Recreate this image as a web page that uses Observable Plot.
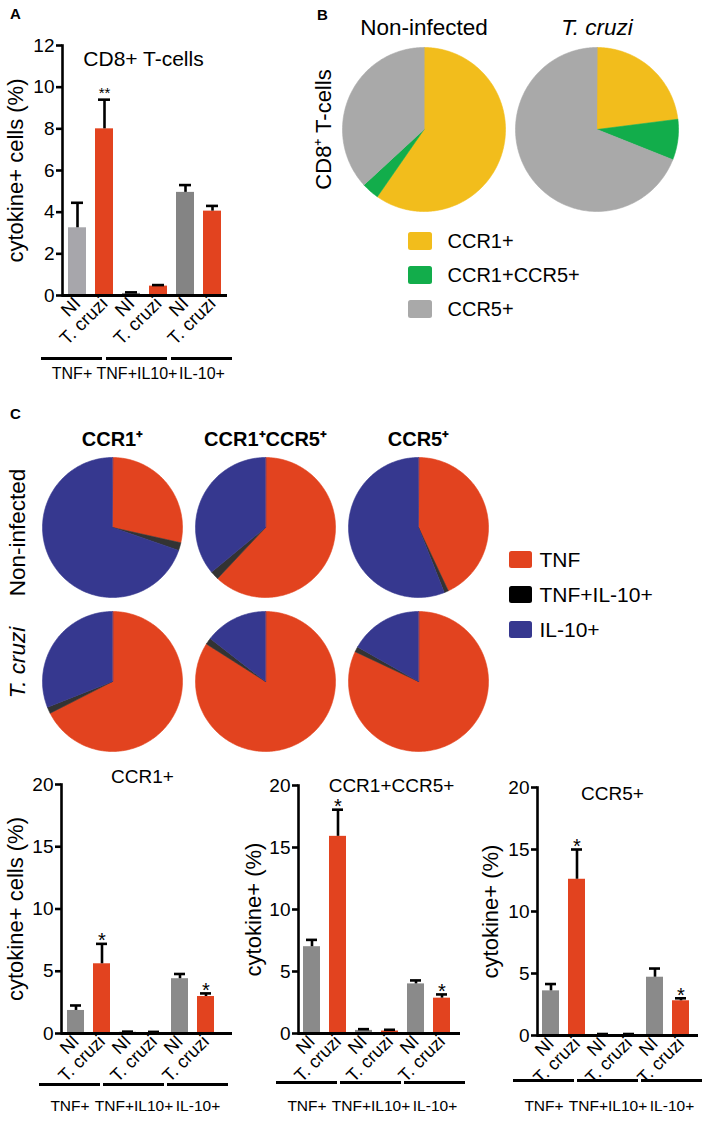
<!DOCTYPE html>
<html><head><meta charset="utf-8">
<script src="https://cdn.jsdelivr.net/npm/d3@7"></script>
<script src="https://cdn.jsdelivr.net/npm/@observablehq/plot@0.6"></script>
<style>
body{margin:0;background:#fff;}
#fig{position:relative;width:709px;height:1124px;overflow:hidden;font-family:"Liberation Sans",Arial,sans-serif;background:#fff;}
#fig svg{position:absolute;}
.letter{position:absolute;font-weight:bold;font-size:15px;line-height:15px;color:#000;}
</style></head><body><div id="fig"></div>
<script>
// ---------------- data ----------------
const conditions = ["NI", "T. cruzi"];
const cytokineGroups = ["TNF+", "TNF+IL10+", "IL-10+"];

// Panel A: CD8+ T-cells
const aMean  = [3.25, 8.0, 0.1, 0.45, 4.95, 4.05];
const aUpper = [4.45, 9.4, 0.15, 0.5, 5.3, 4.3];
const aStars = ["", "**", "", "", "", ""];

// Panel C bar charts
const ccr1Mean  = [1.85, 5.6, 0.1, 0.08, 4.4, 2.97];
const ccr1Upper = [2.25, 7.2, 0.15, 0.13, 4.78, 3.22];
const ccr1Stars = ["", "*", "", "", "", "*"];

const ccr15Mean  = [7.0, 15.9, 0.25, 0.2, 4.0, 2.85];
const ccr15Upper = [7.55, 18.05, 0.35, 0.3, 4.28, 3.15];
const ccr15Stars = ["", "*", "", "", "", "*"];

const ccr5Mean  = [3.6, 12.6, 0.08, 0.08, 4.7, 2.8];
const ccr5Upper = [4.15, 15.0, 0.12, 0.12, 5.4, 3.0];
const ccr5Stars = ["", "*", "", "", "", "*"];

// Panel B pies (%)
const bColumns = ["Non-infected", "T. cruzi"];
const bCategories = ["CCR1+", "CCR1+CCR5+", "CCR5+"];
const bNonInfected = [59.7, 3.5, 36.8];
const bTcruzi = [23, 8, 69];
const bRowLabel = "CD8\u207A T-cells";

// Panel C pies (%)
const cColumns = ["CCR1\u207A", "CCR1\u207ACCR5\u207A", "CCR5\u207A"];
const cRows = ["Non-infected", "T. cruzi"];
const cCategories = ["TNF", "TNF+IL-10+", "IL-10+"];
const cNonInfected = [[28.5, 1.8, 69.7], [62, 2, 36], [43, 1, 56]];
const cTcruzi = [[67.5, 1.5, 31], [84, 1.5, 14.5], [82, 1.2, 16.8]];

// ---------------- styles ----------------
const FONT = '"Liberation Sans", Arial, Helvetica, sans-serif';
const RED = "#e2431f", GREY = "#8a8a8a", LIGHTGREY = "#a7a6ab", BLUE = "#36388f";
const aFills = [LIGHTGREY, RED, GREY, RED, "#848484", RED];
const cFills = [GREY, RED, GREY, RED, GREY, RED];
const bColors = ["#f2bd1c", "#12ad4b", "#a9a9a9"];
const cPieColors = [RED, "#333333", BLUE];
const cLegendColors = [RED, "#000000", BLUE];
const baseStyle = {background: "transparent", overflow: "visible", fontFamily: FONT, color: "#000"};

const fig = document.getElementById("fig");
function place(svg, left, top) {
  svg.style.position = "absolute";
  svg.style.left = left + "px";
  svg.style.top = top + "px";
  fig.appendChild(svg);
}
function letter(t, left, top) {
  const d = document.createElement("div");
  d.className = "letter"; d.textContent = t;
  d.style.left = left + "px"; d.style.top = top + "px";
  fig.appendChild(d);
}

function barChart(o) {
  const rows = o.mean.map((m, i) => ({
    id: cytokineGroups[Math.floor(i / 2)] + "|" + conditions[i % 2],
    mean: m, upper: o.upper[i], star: o.stars[i], fill: o.fills[i]
  }));
  const ids = rows.map(d => d.id);
  const svg = Plot.plot({
    width: o.width, height: o.height,
    marginLeft: o.ml, marginRight: o.mr, marginTop: o.mt, marginBottom: o.mb,
    style: baseStyle,
    x: {domain: ids, paddingInner: 1 / 3, paddingOuter: o.po, align: o.align, axis: null},
    y: {domain: [0, o.yMax], axis: null},
    color: {type: "identity"},
    marks: [
      Plot.barY(rows, {x: "id", y: "mean", fill: "fill"}),
      Plot.ruleX(rows, {x: "id", y1: "mean", y2: "upper", strokeWidth: 2.6}),
      Plot.tickY(rows, {x: "id", y: "upper", strokeWidth: 2.6, inset: 3}),
      Plot.text(rows.filter(d => d.star), {x: "id", y: "upper", text: "star", fontSize: o.starSize, dy: o.starDy}),
      Plot.frame({anchor: "left", strokeWidth: 2.6}),
      Plot.ruleY([0], {strokeWidth: 3}),
      Plot.axisY(d3.range(0, o.yMax + 1e-9, o.yStep), {tickSize: 6, tickPadding: 2, fontSize: 19, strokeWidth: 2.6, label: null}),
      Plot.axisX(ids, {tickRotate: -45, tickSize: 0, tickPadding: 5, fontSize: o.xFont, tickFormat: d => d.split("|")[1], label: null}),
      Plot.text([o.title], {frameAnchor: "top", lineAnchor: "middle", dx: o.titleDx, dy: o.titleDy, fontSize: o.titleSize, text: d => d}),
      Plot.text([o.ylabel], {frameAnchor: "left", textAnchor: "middle", lineAnchor: "middle", rotate: -90, dx: o.ylabelDx, fontSize: 22, text: d => d})
    ]
  });
  place(svg, o.left, o.top);
}

function groupAxis(o) {
  const svg = Plot.plot({
    width: o.width, height: o.height,
    marginLeft: o.ml, marginRight: o.mr, marginTop: 0, marginBottom: o.mb,
    style: baseStyle,
    x: {domain: cytokineGroups, paddingInner: o.pad, paddingOuter: 0, axis: null},
    y: {domain: [0, 1], axis: null},
    marks: [
      Plot.tickY(cytokineGroups, {x: d => d, y: () => 0, strokeWidth: 3}),
      Plot.text(cytokineGroups, {x: d => d, y: () => 0, dy: o.dy, fontSize: o.font, text: d => d})
    ]
  });
  place(svg, o.left, o.top);
}

function pieSlices(values, cats, extra) {
  const arcs = d3.pie().sort(null).value(d => d)(values);
  const pts = [];
  arcs.forEach((a, i) => {
    const key = Object.values(extra).join("/") + "/" + cats[i];
    pts.push({...extra, key, cat: cats[i], x: 0, y: 0});
    const n = Math.max(2, Math.ceil((a.endAngle - a.startAngle) / (Math.PI / 180)));
    for (let k = 0; k <= n; k++) {
      const t = a.startAngle + (a.endAngle - a.startAngle) * k / n;
      pts.push({...extra, key, cat: cats[i], x: Math.sin(t), y: Math.cos(t)});
    }
  });
  return pts;
}

function legend(o) {
  const svg = Plot.plot({
    width: o.width, height: o.height,
    marginLeft: o.ml, marginRight: o.width - o.ml - o.sw, marginTop: o.mt, marginBottom: o.height - o.mt - o.span,
    style: baseStyle,
    x: {domain: ["swatch"], padding: 0, axis: null},
    y: {domain: o.cats, paddingInner: o.pad, paddingOuter: o.pad / 2, axis: null},
    color: {domain: o.cats, range: o.colors},
    marks: [
      Plot.cell(o.cats, {x: () => "swatch", y: d => d, fill: d => d, rx: 2.5}),
      Plot.text(o.cats, {y: d => d, frameAnchor: "left", dx: o.dx, textAnchor: "start", fontSize: o.font, text: d => d})
    ]
  });
  place(svg, o.left, o.top);
}

// ---------------- Panel A ----------------
barChart({left: 0, top: 0, width: 240, height: 345, ml: 62, mr: 13, mt: 45, mb: 50,
  po: 0.2, align: 0.5, yMax: 12, yStep: 2, mean: aMean, upper: aUpper, stars: aStars, fills: aFills,
  title: "CD8+ T-cells", titleDx: -1.5, titleDy: 14, titleSize: 21, ylabel: "cytokine+ cells (%)", ylabelDx: -47,
  starSize: 15, starDy: -6, xFont: 18.5});
groupAxis({left: 0, top: 340, width: 240, height: 50, ml: 40, mr: 7, mb: 32, pad: 0.06, dy: 15, font: 16});
letter("A", 10, 6);

// ---------------- Panel B ----------------
{
  const pts = [
    ...pieSlices(bNonInfected, bCategories, {col: bColumns[0]}),
    ...pieSlices(bTcruzi, bCategories, {col: bColumns[1]})
  ];
  const svg = Plot.plot({
    width: 409, height: 230, marginLeft: 41, marginRight: 30, marginTop: 47, marginBottom: 19,
    style: baseStyle,
    fx: {domain: bColumns, paddingInner: 0.057, paddingOuter: 0, axis: null},
    x: {domain: [-1, 1], axis: null},
    y: {domain: [-1, 1], axis: null},
    color: {domain: bCategories, range: bColors},
    marks: [
      Plot.line(pts, {fx: "col", x: "x", y: "y", z: "key", fill: "cat", stroke: "cat", strokeWidth: 0.6, curve: "linear-closed"}),
      Plot.text([bColumns[0]], {fx: d => d, frameAnchor: "top", lineAnchor: "middle", dy: -20, fontSize: 22.5, text: d => d}),
      Plot.text([bColumns[1]], {fx: d => d, frameAnchor: "top", lineAnchor: "middle", dy: -20, fontSize: 22.5, fontStyle: "italic", text: d => d}),
      Plot.text([bRowLabel], {fx: () => bColumns[0], frameAnchor: "left", textAnchor: "middle", lineAnchor: "middle", rotate: -90, dx: -19, fontSize: 22, text: d => d})
    ]
  });
  place(svg, 300, 0);
}
legend({left: 400, top: 224, width: 309, height: 102, ml: 8, sw: 24, mt: 0, span: 102, pad: 0.48,
  cats: bCategories, colors: bColors, dx: 39, font: 20});
letter("B", 317, 7);

// ---------------- Panel C pies ----------------
{
  const pts = [];
  cColumns.forEach((col, j) => {
    pts.push(...pieSlices(cNonInfected[j], cCategories, {col, row: cRows[0]}));
    pts.push(...pieSlices(cTcruzi[j], cCategories, {col, row: cRows[1]}));
  });
  const svg = Plot.plot({
    width: 500, height: 360, marginLeft: 42, marginRight: 12, marginTop: 57, marginBottom: 9,
    style: baseStyle,
    fx: {domain: cColumns, paddingInner: 0.085, paddingOuter: 0, axis: null},
    fy: {domain: cRows, paddingInner: 0.091, paddingOuter: 0, axis: null},
    x: {domain: [-1, 1], axis: null},
    y: {domain: [-1, 1], axis: null},
    color: {domain: cCategories, range: cPieColors},
    marks: [
      Plot.line(pts, {fx: "col", fy: "row", x: "x", y: "y", z: "key", fill: "cat", stroke: "cat", strokeWidth: 0.6, curve: "linear-closed"}),
      Plot.text(cColumns, {fx: d => d, fy: () => cRows[0], frameAnchor: "top", lineAnchor: "middle", dy: -18, fontSize: 20, fontWeight: "bold", text: d => d}),
      Plot.text([cRows[0]], {fy: d => d, fx: () => cColumns[0], frameAnchor: "left", textAnchor: "middle", lineAnchor: "middle", rotate: -90, dx: -25, dy: 5, fontSize: 22.5, text: d => d}),
      Plot.text([cRows[1]], {fy: d => d, fx: () => cColumns[0], frameAnchor: "left", textAnchor: "middle", lineAnchor: "middle", rotate: -90, dx: -25, dy: -19, fontSize: 22.5, fontStyle: "italic", text: d => d})
    ]
  });
  place(svg, 0, 400);
}
legend({left: 500, top: 530, width: 209, height: 120, ml: 9, sw: 23, mt: 12.5, span: 105, pad: 0.514,
  cats: cCategories, colors: cLegendColors, dx: 30, font: 21});
letter("C", 10, 406);

// ---------------- Panel C bars ----------------
barChart({left: 0, top: 760, width: 240, height: 300, ml: 61, mr: 8, mt: 24, mb: 27,
  po: 0.345, align: 0.27, yMax: 20, yStep: 5, mean: ccr1Mean, upper: ccr1Upper, stars: ccr1Stars, fills: cFills,
  title: "CCR1+", titleDx: -4.5, titleDy: -8, titleSize: 19, ylabel: "cytokine+ cells (%)", ylabelDx: -46,
  starSize: 20, starDy: -3, xFont: 18});
barChart({left: 240, top: 760, width: 230, height: 300, ml: 58, mr: 10, mt: 25, mb: 27,
  po: 0.27, align: 0.35, yMax: 20, yStep: 5, mean: ccr15Mean, upper: ccr15Upper, stars: ccr15Stars, fills: cFills,
  title: "CCR1+CCR5+", titleDx: 12, titleDy: 0, titleSize: 19, ylabel: "cytokine+ (%)", ylabelDx: -45,
  starSize: 20, starDy: -3, xFont: 18});
barChart({left: 470, top: 760, width: 239, height: 300, ml: 67, mr: 11, mt: 27, mb: 25,
  po: 0.205, align: 0.37, yMax: 20, yStep: 5, mean: ccr5Mean, upper: ccr5Upper, stars: ccr5Stars, fills: cFills,
  title: "CCR5+", titleDx: -5.5, titleDy: 6, titleSize: 19, ylabel: "cytokine+ (%)", ylabelDx: -47,
  starSize: 20, starDy: -3, xFont: 18});

groupAxis({left: 0, top: 1050, width: 240, height: 74, ml: 38, mr: 10, mb: 40, pad: 0.045, dy: 22, font: 15.5});
groupAxis({left: 240, top: 1050, width: 240, height: 74, ml: 35, mr: 13, mb: 42, pad: 0.045, dy: 24, font: 15.5});
groupAxis({left: 470, top: 1050, width: 239, height: 74, ml: 43, mr: 6, mb: 44, pad: 0.045, dy: 26, font: 15.5});
</script></body></html>
